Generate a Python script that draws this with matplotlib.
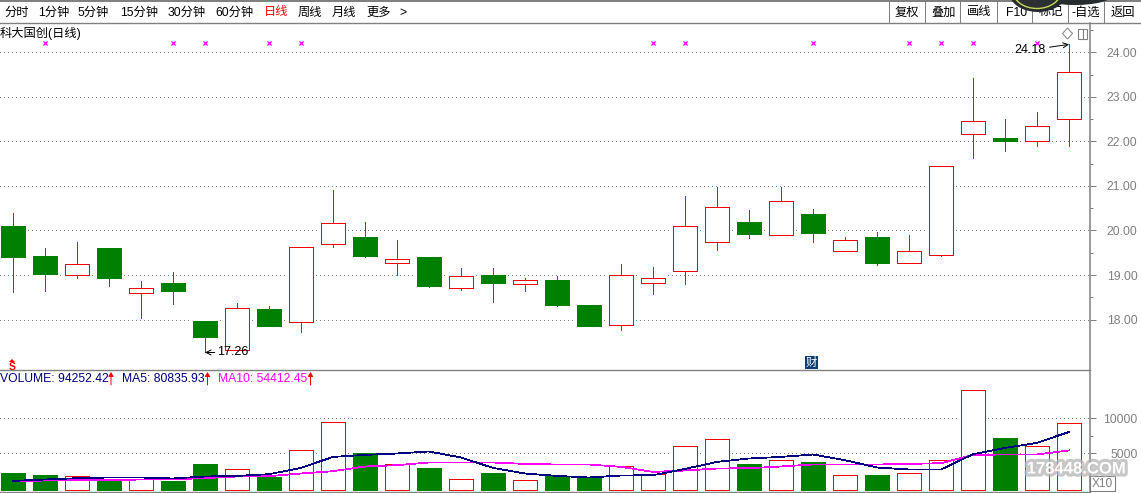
import numpy as np
import matplotlib
matplotlib.use("Agg")
import matplotlib.pyplot as plt
import matplotlib.patheffects as pe
from matplotlib.patches import Rectangle, Ellipse, Polygon

plt.rcParams['font.family'] = ['Liberation Sans', 'Noto Sans CJK SC', 'DejaVu Sans']

# values
highs = [20.39, 19.60, 19.74, 19.60, 18.86, 19.06, 17.96, 18.37, 18.30, 19.64, 20.91, 20.19,
         19.78, 19.40, 19.15, 19.15, 18.93, 18.97, 18.32, 19.24, 19.18, 20.77, 20.97, 20.46,
         20.97, 20.48, 19.85, 19.96, 19.89, 21.46, 23.42, 22.50, 22.66, 24.18]
tops = [20.10, 19.42, 19.24, 19.60, 18.70, 18.82, 17.96, 18.25, 18.23, 19.64, 20.16, 19.85,
        19.35, 19.40, 18.97, 19.00, 18.88, 18.88, 18.32, 18.99, 18.94, 20.09, 20.52, 20.19,
        20.67, 20.37, 19.78, 19.85, 19.53, 21.46, 22.46, 22.07, 22.34, 23.56]
bottoms = [19.40, 19.02, 19.00, 18.93, 18.60, 18.64, 17.60, 17.32, 17.85, 17.95, 19.69, 19.42,
           19.27, 18.75, 18.70, 18.82, 18.80, 18.32, 17.85, 17.87, 18.83, 19.08, 19.75, 19.92,
           19.91, 19.94, 19.55, 19.27, 19.28, 19.46, 22.16, 22.01, 22.01, 22.50]
lows = [18.61, 18.64, 18.93, 18.75, 18.03, 18.34, 17.26, 17.32, 17.85, 17.72, 19.63, 19.40,
        19.01, 18.73, 18.66, 18.39, 18.64, 18.30, 17.85, 17.76, 18.57, 18.79, 19.56, 19.83,
        19.91, 19.74, 19.55, 19.22, 19.28, 19.42, 21.62, 21.78, 21.89, 21.89]
# 1 = rising (red outline), 0 = falling (solid green)
rising = [0, 0, 1, 0, 1, 0, 0, 1, 0, 1, 1, 0, 1, 0, 1, 0, 1, 0, 0, 1, 1, 1, 1, 0,
          1, 0, 1, 0, 1, 1, 1, 0, 1, 1]
volume = [2186, 1900, 1714, 1043, 1286, 1043, 3471, 2714, 1614, 5429, 9571, 5043, 3571, 2900,
          1286, 2186, 1143, 1757, 1471, 3143, 2000, 6000, 7000, 3471, 4000, 3757, 1857, 1900,
          2143, 4000, 14000, 7186, 6000, 9425]
ma5 = [1086, 1286, 1471, 1571, 1571, 1429, 1714, 1800, 2043, 2943, 4514, 4800, 5000, 5286,
       4429, 2943, 2143, 1800, 1571, 1857, 1900, 2800, 3800, 4286, 4514, 4857, 4043, 3000,
       2714, 2714, 4900, 5800, 6514, 8083]
ma10 = [1000, 1143, 1186, 1186, 1286, 1329, 1471, 1714, 1757, 2143, 2471, 3143, 3329, 3714,
        3714, 3714, 3514, 3429, 3429, 3086, 2371, 2571, 2857, 2900, 3143, 3429, 3429, 3429,
        3514, 3614, 4800, 4857, 4857, 5441]
signal_days = [1, 5, 6, 8, 9, 20, 21, 25, 28, 29, 30, 32]
price_ticks = [18, 19, 20, 21, 22, 23, 24]
vol_ticks = [5000, 10000]
menu_left = ["分时", "1分钟", "5分钟", "15分钟", "30分钟", "60分钟", "日线", "周线", "月线", "更多", ">"]
menu_left_x = [4, 38, 78, 120, 168, 215, 264, 298, 332, 366, 399]
menu_right = ["复权", "叠加", "画线", "F10", "标记", "-自选", "返回"]
menu_right_x = [895, 931, 967, 1006, 1039, 1072, 1111]
button_edges = [889, 925, 960, 997, 1032, 1068, 1104]

W, H = 1141, 493
GRAY = '#808080'
GREEN = '#008000'
RED = '#ff0000'
NAVY = '#000080'
MAGENTA = '#ff00ff'
PX = 0.72  # one pixel, in points

fig = plt.figure(figsize=(W / 100, H / 100), dpi=100)
fig.patch.set_facecolor('white')

def make_axes(top, bottom):
    # panels are placed by their pixel rows in the screenshot
    ax = fig.add_axes([0, 1 - bottom / H, 1089.5 / W, (bottom - top) / H])
    ax.set_xlim(-0.405, 33.64)
    ax.set_xticks([])
    for s in ax.spines.values():
        s.set_visible(False)
    ax.yaxis.tick_right()
    ax.spines['right'].set_visible(True)
    ax.spines['right'].set_color(GRAY)
    ax.spines['right'].set_linewidth(1.1)
    ax.tick_params(axis='y', which='major', length=4.5, width=PX, color=GRAY, labelcolor=GRAY,
                   labelsize=8.7, pad=30)
    ax.tick_params(axis='y', which='minor', length=2.5, width=PX, color=GRAY)
    ax.set_axisbelow(True)
    return ax

def right_align(ax):
    for lab in ax.get_yticklabels():
        lab.set_horizontalalignment('right')

def dotted(ax, ticks):
    for t in ticks:
        ax.axhline(t, color=GRAY, lw=PX, ls=(0, (1, 3)), zorder=1, antialiased=False)

def body(ax, i, low, high, z):
    if rising[i]:
        ax.bar(i, high - low, bottom=low, width=body_w, facecolor='white', edgecolor=RED,
               lw=PX, zorder=z, antialiased=False)
    else:
        ax.bar(i, high - low, bottom=low, width=body_w, facecolor=GREEN, edgecolor=GREEN,
               lw=PX, zorder=z, antialiased=False)

x = np.arange(len(highs))
body_w = 0.74

# ---------- candles ----------
ax = make_axes(23.5, 370.5)
ax.set_ylim(16.855, 24.65)
ax.set_yticks(price_ticks)
ax.set_yticklabels([f"{t:.2f}" for t in price_ticks])
ax.set_yticks([t + 0.5 for t in price_ticks], minor=True)
right_align(ax)
dotted(ax, price_ticks)

for i in x:
    c = RED if rising[i] else GREEN
    ax.vlines(i, lows[i], highs[i], color=c, lw=PX, zorder=2, antialiased=False)
    h = tops[i] - bottoms[i]
    ax.bar(i, h + 0.1, bottom=bottoms[i] - 0.05, width=0.94, color='white', zorder=1.5)
    body(ax, i, bottoms[i], tops[i], 3)

ax.scatter(signal_days, [24.21] * len(signal_days), marker='x', s=9, color=MAGENTA, lw=0.9, zorder=4)

ax.annotate("24.18", xy=(33, 24.18), xytext=(-17, -4), textcoords='offset points', ha='right', va='center',
            fontsize=9, arrowprops=dict(arrowstyle='->', lw=0.7, color='black', shrinkA=1, shrinkB=0), zorder=5)
ax.annotate("17.26", xy=(6, 17.26), xytext=(9, 0), textcoords='offset points', ha='left', va='center',
            fontsize=9, arrowprops=dict(arrowstyle='->', lw=0.7, color='black', shrinkA=0, shrinkB=0), zorder=5)

# ---------- volume ----------
ax2 = make_axes(370.5, 491.5)
ax2.set_ylim(-429, 16857)
ax2.set_yticks(vol_ticks)
ax2.set_yticklabels([str(t) for t in vol_ticks])
ax2.set_yticks([7500], minor=True)
right_align(ax2)
dotted(ax2, vol_ticks)

base = -200
for i in x:
    ax2.bar(i, volume[i] - base + 120, bottom=base - 60, width=0.94, color='white', zorder=1.5)
    body(ax2, i, base, volume[i], 2)
ax2.plot(x, ma10, color=MAGENTA, lw=0.55, zorder=3, antialiased=False)
ax2.plot(x, ma5, color=NAVY, lw=0.55, zorder=4, antialiased=False)

# ---------- window furniture, in screenshot pixels ----------
ov = fig.add_axes([0, 0, 1, 1], zorder=10)
ov.set_xlim(0, W)
ov.set_ylim(H, 0)
ov.axis('off')
ov.patch.set_alpha(0)

ov.add_patch(Rectangle((0, 0), W, 2, color=GRAY, lw=0))
ov.plot([0, W], [23.3, 23.3], color=GRAY, lw=1.0)
ov.plot([0, 1089.5], [370.4, 370.4], color=GRAY, lw=1.0)
ov.plot([0, 1089.5], [491.5, 491.5], color=GRAY, lw=1.0)
for bx in button_edges:
    ov.plot([bx, bx], [2, 23.3], color=GRAY, lw=PX)

for label, px in zip(menu_left, menu_left_x):
    ov.text(px, 12.5, label, fontsize=8.8, ha='left', va='center', color=RED if label == "日线" else 'black')
for label, px in zip(menu_right, menu_right_x):
    ov.text(px, 12.5, label, fontsize=8.8, ha='left', va='center', color='black', zorder=2)
ov.text(0, 33, "科大国创(日线)", fontsize=8.8, ha='left', va='center', color='black')

# round dark thing covering the top of the window
ov.add_patch(Ellipse((1075, -4), 72, 18, color='#262b2e', lw=0, zorder=3))
ov.add_patch(Ellipse((1038, -8), 58, 40, color='#262b2e', lw=0, zorder=3))
ov.add_patch(Ellipse((1037, -9), 48, 35, facecolor='#2c3033', edgecolor='#c9d65a', lw=1.0, zorder=4))

# legend of the volume panel
for label, px, col, arrow_x in [("VOLUME: 94252.42", 0, NAVY, 111), ("MA5: 80835.93", 122.5, NAVY, 207.5),
                                ("MA10: 54412.45", 218.5, MAGENTA, 310.5)]:
    ov.text(px, 378.5, label, fontsize=8.7, ha='left', va='center', color=col)
    ov.annotate("", xy=(arrow_x, 372), xytext=(arrow_x, 385),
                arrowprops=dict(arrowstyle='-|>,head_width=0.15,head_length=0.25', color=RED, lw=PX, shrinkA=0, shrinkB=0))

# small icons
ov.add_patch(Polygon([(1067.5, 28), (1072.5, 33.5), (1067.5, 39), (1062.5, 33.5)], fill=False, edgecolor=GRAY, lw=0.7))
ov.add_patch(Rectangle((1077.5, 28.5), 9.5, 10, fill=False, edgecolor=GRAY, lw=0.8))
ov.plot([1082.5, 1082.5], [28.5, 38.5], color=GRAY, lw=0.8)
ov.add_patch(Rectangle((805, 356), 13, 13, color='#0f3d6e', lw=0))
ov.text(811.5, 362.5, "财", fontsize=8.2, color='white', ha='center', va='center')
ov.add_patch(Polygon([(12, 359), (15, 362), (9, 362)], color=RED, lw=0))
ov.text(12, 366.5, "S", fontsize=7.5, fontweight='bold', color=RED, ha='center', va='center')

# X10 box and watermark
ov.add_patch(Rectangle((1090, 476), 25, 15, fill=False, edgecolor=GRAY, lw=0.8))
ov.text(1102.5, 484, "X10", fontsize=8.6, color=GRAY, ha='center', va='center')
ov.text(1076, 469, "178448.COM", fontsize=12, fontweight='bold', color='white', ha='center', va='center',
        path_effects=[pe.withStroke(linewidth=4.5, foreground='#b5b5b5', alpha=0.75)], zorder=6)

fig.savefig("out.png", dpi=100)
